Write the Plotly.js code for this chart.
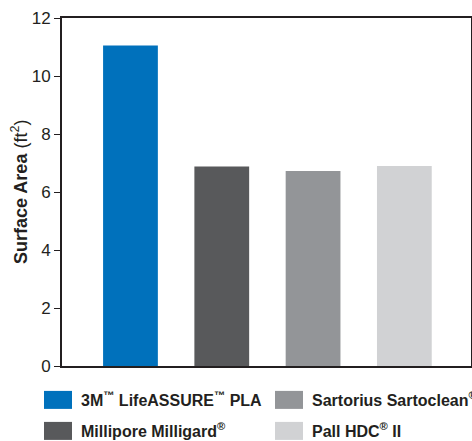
<!DOCTYPE html>
<html>
<head>
<meta charset="utf-8">
<script src="https://cdn.plot.ly/plotly-3.0.1.min.js"></script>
<style>html,body{margin:0;padding:0;background:#fff;}#chart{width:472px;height:441px;}</style>
</head>
<body>
<div id="chart"></div>
<script>
const categories = ["3M<sup>™</sup> LifeASSURE<sup>™</sup> PLA", "Millipore Milligard<sup>®</sup>", "Sartorius Sartoclean<sup>®</sup>", "Pall HDC<sup>®</sup> II"];
const surfaceArea = [11.05, 6.88, 6.72, 6.9];
const colors = ["#0071BC", "#58595B", "#939598", "#D1D2D4"];
const legendIds = ["legend", "legend2", "legend3", "legend4"];
const yTicks = [0, 2, 4, 6, 8, 10, 12];
const yTitle = "<b>Surface Area</b> (ft<sup>2</sup>)";

const FONT = "Liberation Sans, Arial, Helvetica, sans-serif";
const INK = "#231F20";

const traces = categories.map((c, i) => ({
  type: "bar",
  x: [i],
  y: [surfaceArea[i]],
  name: "<b>" + c + "</b>",
  marker: {color: colors[i]},
  width: 0.6,
  legend: legendIds[i],
  hoverinfo: "none"
}));

const legendCommon = {
  orientation: "v",
  xref: "container", yref: "container",
  xanchor: "left", yanchor: "middle",
  font: {family: FONT, size: 16, color: INK},
  itemwidth: 36,
  bgcolor: "rgba(0,0,0,0)",
  borderwidth: 0
};
// legend slot centres (px in the 472x441 picture)
const legendSlots = [[35, 400], [35, 431], [266, 400], [266, 431]];

const layout = {
  width: 472, height: 441,
  margin: {l: 62, r: 1, t: 18, b: 75, autoexpand: false},
  paper_bgcolor: "#fff", plot_bgcolor: "#fff",
  font: {family: FONT, size: 16, color: INK},
  showlegend: true,
  xaxis: {
    range: [-0.75, 3.73],
    showticklabels: false, ticks: "",
    showgrid: false, zeroline: false,
    showline: true, linecolor: INK, linewidth: 2, mirror: true,
    fixedrange: true
  },
  yaxis: {
    range: [0, 12],
    tickvals: yTicks,
    ticktext: yTicks.map(String),
    ticks: "outside", ticklen: 6, tickwidth: 1, tickcolor: INK,
    tickfont: {family: FONT, size: 17, color: INK},
    showgrid: false, zeroline: false,
    showline: true, linecolor: INK, linewidth: 2, mirror: true,
    fixedrange: true
  },
  annotations: [{
    text: yTitle,
    xref: "paper", yref: "paper",
    x: 0, y: 0.5, xanchor: "center", yanchor: "middle",
    xshift: -43, textangle: -90, showarrow: false,
    font: {family: FONT, size: 18, color: INK}
  }]
};
legendIds.forEach((id, i) => {
  layout[id] = Object.assign({}, legendCommon, {
    x: legendSlots[i][0] / 472,
    y: 1 - legendSlots[i][1] / 441
  });
});

Plotly.newPlot("chart", traces, layout, {displayModeBar: false, staticPlot: true}).then(() => {
  document.querySelectorAll(".legendpoints path").forEach(p => {
    p.setAttribute("d", "M14,9H-14V-9H14Z");
    p.style.strokeWidth = "0px";
  });
});
</script>
</body>
</html>
